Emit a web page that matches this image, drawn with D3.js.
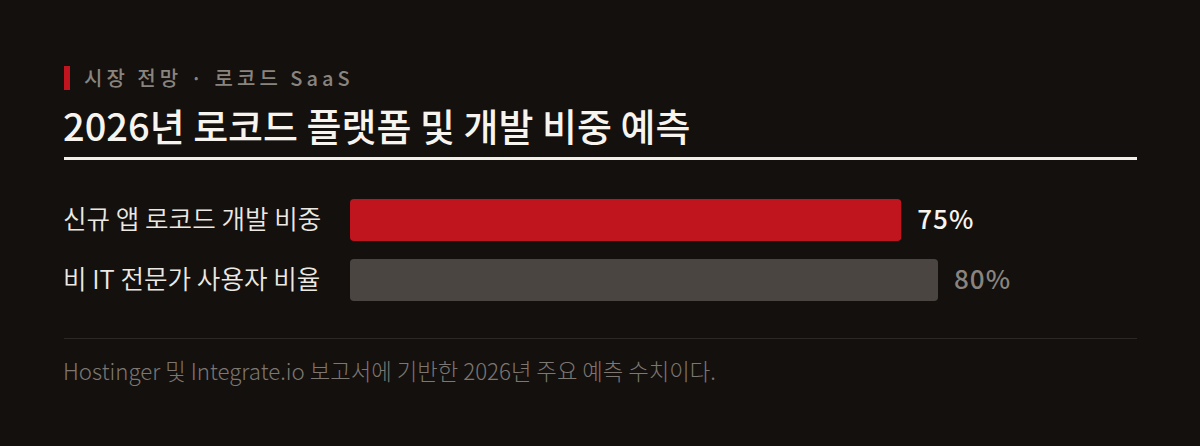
<!DOCTYPE html>
<html>
<head>
<meta charset="utf-8">
<script src="https://cdn.jsdelivr.net/npm/d3@7"></script>
<style>
  html, body { margin: 0; padding: 0; background: #13100e; }
  svg { display: block; font-family: "Noto Sans CJK KR", "Noto Sans", sans-serif; }
</style>
</head>
<body>
<svg id="chart" width="1200" height="446"></svg>
<script>
var categories = ['신규 앱 로코드 개발 비중', '비 IT 전문가 사용자 비율'];
var values = [75, 80];
var barColors = ['#c0141f', '#4b4541'];
var valueColors = ['#f7f4ef', '#8a847e'];

var svg = d3.select('#chart');
svg.append('rect').attr('width', 1200).attr('height', 446).attr('fill', '#13100e');

// kicker
svg.append('rect').attr('x', 64).attr('y', 66).attr('width', 6).attr('height', 24).attr('fill', '#c0141f');
svg.append('text')
  .attr('x', 84).attr('y', 86)
  .attr('fill', '#8a847f')
  .attr('font-size', 20).attr('font-weight', 500)
  .attr('letter-spacing', 4)
  .text('시장 전망 · 로코드 SaaS');

// title
svg.append('text')
  .attr('x', 63).attr('y', 141)
  .attr('fill', '#f7f4ef')
  .attr('font-size', 38).attr('font-weight', 500)
  .text('2026년 로코드 플랫폼 및 개발 비중 예측');

svg.append('rect').attr('x', 64).attr('y', 157).attr('width', 1073).attr('height', 3).attr('fill', '#f2efe9');

var x = d3.scaleLinear().domain([0, 100]).range([350, 1085]);
var y = d3.scaleBand().domain(categories).range([190, 310]).paddingInner(0.3).paddingOuter(0.15);

var rows = svg.selectAll('.row').data(categories).enter().append('g').attr('class', 'row');

rows.append('rect')
  .attr('x', x(0))
  .attr('y', function(d) { return y(d); })
  .attr('width', function(d, i) { return x(values[i]) - x(0); })
  .attr('height', y.bandwidth())
  .attr('rx', 4)
  .attr('fill', function(d, i) { return barColors[i]; });

rows.append('text')
  .attr('x', 63)
  .attr('y', function(d) { return y(d) + y.bandwidth() / 2; })
  .attr('dy', '0.35em')
  .attr('fill', '#ece8e3')
  .attr('font-size', 25.6).attr('font-weight', 350)
  .text(function(d) { return d; });

rows.append('text')
  .attr('x', function(d, i) { return x(values[i]) + 16; })
  .attr('y', function(d) { return y(d) + y.bandwidth() / 2; })
  .attr('dy', '0.35em')
  .attr('fill', function(d, i) { return valueColors[i]; })
  .attr('font-size', 26).attr('font-weight', 500)
  .attr('letter-spacing', 1)
  .text(function(d, i) { return values[i] + '%'; });

// footer
svg.append('rect').attr('x', 64).attr('y', 338).attr('width', 1073).attr('height', 1).attr('fill', '#2c2825');
svg.append('text')
  .attr('x', 63).attr('y', 380)
  .attr('fill', '#7d7772')
  .attr('font-size', 22.3).attr('font-weight', 300)
  .text('Hostinger 및 Integrate.io 보고서에 기반한 2026년 주요 예측 수치이다.');
</script>
</body>
</html>
